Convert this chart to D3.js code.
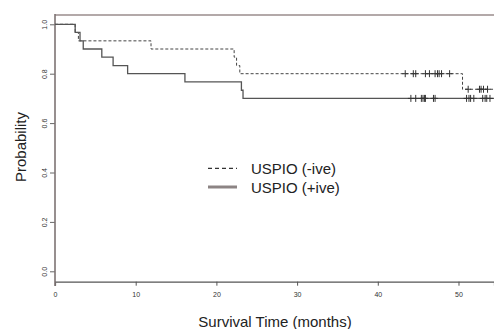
<!DOCTYPE html>
<html lang="en">
<head>
    <title>Survival by USPIO status</title>
    <script src="https://d3js.org/d3.v7.min.js"></script>
    <style>
        body { margin: 0; background: #fff; }
        text { font-family: "Liberation Sans", Arial, sans-serif; }
    </style>
</head>
<body>
    <div id="chart"></div>

    <script>
        // Kaplan-Meier steps
        const negTimes = [0, 2.5, 2.9, 11.9, 22.2, 22.5, 22.9, 50.5];
        const negSurv  = [1, 0.967, 0.933, 0.9, 0.867, 0.833, 0.8, 0.737];
        const negCensor = [43.4, 44.4, 44.7, 45.9, 46.4, 47.1, 47.4, 47.6, 47.9, 48.9,
                           51.2, 52.6, 52.8, 53.1, 53.6];

        const posTimes = [0, 2.5, 3.1, 3.5, 5.8, 7.2, 9.0, 16.1, 23.1, 23.3];
        const posSurv  = [1, 0.967, 0.933, 0.9, 0.867, 0.833, 0.8, 0.767, 0.733, 0.7];
        const posCensor = [44.1, 44.7, 45.4, 45.6, 45.8, 45.9, 46.9, 47.1,
                           51.0, 51.3, 51.5, 51.9, 53.0, 53.3, 53.5, 53.9];

        const xTicks = [0, 10, 20, 30, 40, 50];
        const yTicks = [0, 0.2, 0.4, 0.6, 0.8, 1.0];
        const legendLabels = ["USPIO (-ive)", "USPIO (+ive)"];

        const width = 494;
        const height = 329;

        const svg = d3.select("#chart")
            .append("svg")
            .attr("width", width)
            .attr("height", height);

        const x = d3.scaleLinear().domain([0, 54.4]).range([55, 494]);
        const y = d3.scaleLinear().domain([0, 1]).range([271.3, 24.3]);

        // frame: top line and left line
        svg.append("line")
            .attr("x1", 55).attr("x2", width)
            .attr("y1", 15).attr("y2", 15)
            .attr("stroke", "#9a8c8c").attr("stroke-width", 1.5);

        // x axis
        const xAxis = svg.append("g")
            .attr("transform", "translate(0,281.7)")
            .call(d3.axisBottom(x).tickValues(xTicks).tickSize(4).tickPadding(6).tickFormat(d3.format("d")));
        xAxis.select(".domain").attr("stroke", "#555").attr("stroke-width", 1.2);
        xAxis.selectAll(".tick line").attr("stroke", "#555");
        xAxis.selectAll(".tick text").attr("font-size", 7).attr("fill", "#333")
            .attr("font-family", "Liberation Sans, Arial, sans-serif");

        // y axis
        const yAxis = svg.append("g")
            .attr("transform", "translate(55,0)")
            .call(d3.axisLeft(y).tickValues(yTicks).tickSize(5).tickFormat(d3.format(".1f")));
        yAxis.select(".domain").remove();
        yAxis.selectAll(".tick line").attr("stroke", "#666");
        yAxis.selectAll(".tick text")
            .attr("font-size", 7).attr("fill", "#333")
            .attr("font-family", "Liberation Sans, Arial, sans-serif")
            .attr("text-anchor", "middle")
            .attr("dominant-baseline", "central")
            .attr("x", 0)
            .attr("transform", "translate(-13,0) rotate(-90)");

        svg.append("line")
            .attr("x1", 55).attr("x2", 55)
            .attr("y1", 14).attr("y2", 286)
            .attr("stroke", "#7d7373").attr("stroke-width", 1.6);

        // step curves
        const stepLine = d3.line()
            .x(d => x(d[0]))
            .y(d => y(d[1]))
            .curve(d3.curveStepAfter);

        function curveData(times, surv) {
            const pts = times.map((t, i) => [t, surv[i]]);
            pts.push([x.domain()[1], surv[surv.length - 1]]);
            return pts;
        }

        function survAt(times, surv, t) {
            return surv[d3.bisectRight(times, t) - 1];
        }

        svg.append("path")
            .datum(curveData(negTimes, negSurv))
            .attr("d", stepLine)
            .attr("fill", "none")
            .attr("stroke", "#444")
            .attr("stroke-width", 1)
            .attr("stroke-dasharray", "3,2");

        svg.append("path")
            .datum(curveData(posTimes, posSurv))
            .attr("d", stepLine)
            .attr("fill", "none")
            .attr("stroke", "#555")
            .attr("stroke-width", 1.3);

        // censor marks
        function drawCensor(times, surv, censor) {
            const g = svg.append("g").attr("stroke", "#333").attr("stroke-width", 1);
            censor.forEach(t => {
                const cx = x(t), cy = y(survAt(times, surv, t));
                g.append("line").attr("x1", cx).attr("x2", cx).attr("y1", cy - 3.5).attr("y2", cy + 3.5);
                g.append("line").attr("x1", cx - 3).attr("x2", cx + 3).attr("y1", cy).attr("y2", cy);
            });
        }
        drawCensor(negTimes, negSurv, negCensor);
        drawCensor(posTimes, posSurv, posCensor);

        // legend
        const legend = svg.append("g");
        legend.append("line")
            .attr("x1", 208).attr("x2", 237).attr("y1", 168.3).attr("y2", 168.3)
            .attr("stroke", "#333").attr("stroke-width", 1.2).attr("stroke-dasharray", "4,3");
        legend.append("line")
            .attr("x1", 208).attr("x2", 237).attr("y1", 187).attr("y2", 187)
            .attr("stroke", "#8c8484").attr("stroke-width", 3);
        legend.selectAll("text")
            .data(legendLabels)
            .enter()
            .append("text")
            .attr("x", 251)
            .attr("y", (d, i) => 174.3 + i * 19)
            .attr("font-size", 15)
            .attr("fill", "#222")
            .text(d => d);

        // axis titles
        svg.append("text")
            .attr("x", 275).attr("y", 327)
            .attr("text-anchor", "middle")
            .attr("font-size", 15)
            .attr("fill", "#222")
            .text("Survival Time (months)");

        svg.append("text")
            .attr("transform", "translate(26,147) rotate(-90)")
            .attr("text-anchor", "middle")
            .attr("font-size", 15)
            .attr("fill", "#222")
            .text("Probability");
    </script>
</body>
</html>
